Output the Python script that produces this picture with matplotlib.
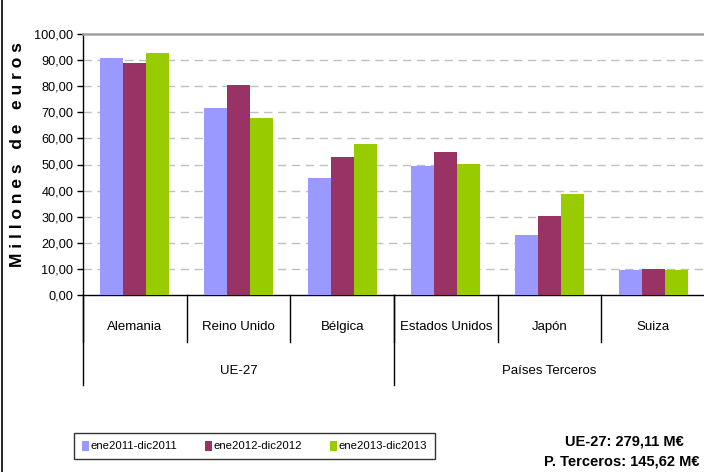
# Program to plot imports by country of origin, three periods

import numpy as np
from matplotlib import pyplot as plt
from matplotlib.lines import Line2D

plt.rcParams['font.family'] = ['Liberation Sans Narrow', 'Liberation Sans', 'DejaVu Sans']

# countries and groups
paises = ['Alemania', 'Reino Unido', 'Bélgica', 'Estados Unidos', 'Japón', 'Suiza']
grupos = [('UE-27', 0, 3), ('Países Terceros', 3, 6)]

# values in millions of euros
v2011 = np.array([90.8, 71.6, 44.8, 49.4, 23.0, 9.6])
v2012 = np.array([88.9, 80.5, 52.9, 54.8, 30.3, 10.0])
v2013 = np.array([92.7, 67.8, 57.9, 50.2, 38.7, 9.6])

colores = ['#9999FF', '#993366', '#99CC00']
etiquetas = ['ene2011-dic2011', 'ene2012-dic2012', 'ene2013-dic2013']

# Number of elements
n = len(paises)
x = np.arange(n)
w = 0.222


# Plot the bars
fig = plt.figure(1, figsize=(7.04, 4.72), dpi=100)
ax = fig.add_axes([83/704., 1-295/472., 622/704., 261/472.])
for i, v in enumerate([v2011, v2012, v2013]):
    ax.bar(x+(i-1)*w, v, width=w, color=colores[i], label=etiquetas[i], zorder=3)

plt.xlim(-0.5, n-0.5)
plt.ylim(0, 100)
plt.yticks(np.arange(0, 101, 10))
ax.set_yticklabels([('%.2f' % t).replace('.', ',') for t in np.arange(0, 101, 10)], fontsize=9.2)
plt.xticks([])
ax.tick_params(axis='y', direction='out', length=4, width=1, pad=3)
for t in np.arange(10, 100, 10):
    ax.axhline(t, color='#C0C0C0', lw=1, dashes=(6, 4), zorder=1)

ax.spines['right'].set_visible(False)
ax.spines['top'].set_color('#A0A0A0')
ax.spines['top'].set_linewidth(1.8)
ax.spines['left'].set_linewidth(1)
ax.spines['bottom'].set_linewidth(1)

plt.ylabel('M i l l o n e s   d e   e u r o s', fontsize=12.5, fontweight='bold',
           family=['Liberation Sans', 'DejaVu Sans'])
ax.yaxis.set_label_coords(-58/622., 140/261.)  # label sits a bit above the middle

# category labels and separators below the axis
tr = ax.get_xaxis_transform()
for i, p in enumerate(paises):
    ax.text(i, -32/261., p, transform=tr, ha='center', va='center', fontsize=9.5)
for i in range(n+1):
    ax.add_line(Line2D([i-0.5, i-0.5], [0, -47/261.], transform=tr, color='black', lw=1, clip_on=False))
for g, a, b in grupos:
    ax.text((a+b-1)/2., -76/261., g, transform=tr, ha='center', va='center', fontsize=9.5)
    ax.add_line(Line2D([a-0.5, a-0.5], [0, -90/261.], transform=tr, color='black', lw=1, clip_on=False))

# legend
leg = fig.legend(loc='center', bbox_to_anchor=(254.5/704., 1-446/472.), ncol=3, fontsize=8.2,
                 frameon=True, fancybox=False, handlelength=0.65, handleheight=1.0,
                 handletextpad=0.15, columnspacing=2.4, borderpad=0.7)
leg.get_frame().set_edgecolor('black')
leg.get_frame().set_linewidth(1)

# totals
fig.text(624/704., 1-441/472., 'UE-27: 279,11 M€', ha='center', va='center', fontsize=10.5, fontweight='bold')
fig.text(622/704., 1-462/472., 'P. Terceros: 145,62 M€', ha='center', va='center', fontsize=10.5, fontweight='bold')

# chart border on the left
fig.add_artist(Line2D([1.5/704., 1.5/704.], [0, 1], transform=fig.transFigure, color='black', lw=1.2))

plt.savefig('out.png', dpi=100)
